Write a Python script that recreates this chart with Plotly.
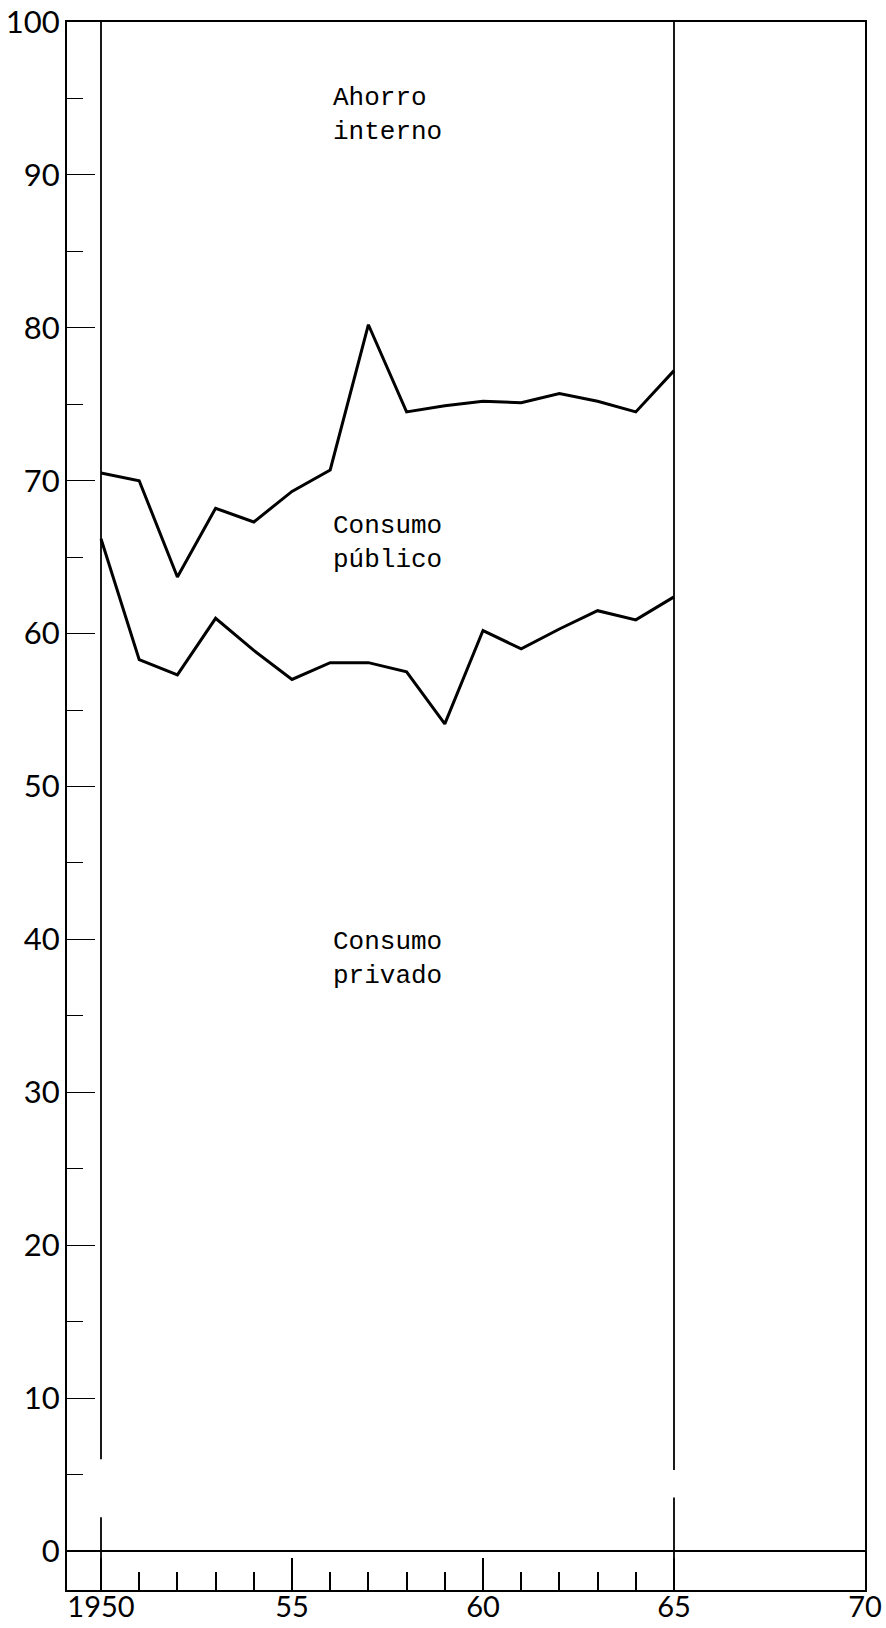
import plotly.graph_objects as go

# Data
years = list(range(1950, 1966))
# Upper boundary: consumo privado + consumo público (per cent of total)
upper_line = [70.5, 70.0, 63.7, 68.2, 67.3, 69.3, 70.7, 80.2, 74.5, 74.9, 75.2, 75.1, 75.7, 75.2, 74.5, 77.2]
# Lower boundary: consumo privado (per cent of total)
lower_line = [66.2, 58.3, 57.3, 61.0, 58.9, 57.0, 58.1, 58.1, 57.5, 54.1, 60.2, 59.0, 60.3, 61.5, 60.9, 62.4]

y_ticks = [0, 10, 20, 30, 40, 50, 60, 70, 80, 90, 100]
y_ticktext = ["0", "10", "20", "30", "40", "50", "60", "70", "80", "90", "100"]
x_ticks = [1950, 1955, 1960, 1965, 1970]
x_ticktext = ["1950", "55", "60", "65", "70"]
x_minor = [1951, 1952, 1953, 1954, 1956, 1957, 1958, 1959, 1961, 1962, 1963, 1964]

labels = ["Ahorro<br>interno", "Consumo<br>público", "Consumo<br>privado"]
label_y = [93.9, 65.9, 38.7]
label_x = [1956.03, 1956.03, 1956.03]

fig = go.Figure()
fig.add_trace(go.Scatter(x=years, y=upper_line, mode="lines",
                         line=dict(color="black", width=3), showlegend=False, hoverinfo="skip"))
fig.add_trace(go.Scatter(x=years, y=lower_line, mode="lines",
                         line=dict(color="black", width=3), showlegend=False, hoverinfo="skip"))

# Vertical reference lines at 1950 and 1965 (with small gaps near the bottom)
for x0, segs in [(1950, [(100, 6.0), (2.2, -2.55)]), (1965, [(100, 5.3), (3.5, -2.55)])]:
    for a, b in segs:
        fig.add_shape(type="line", xref="x", yref="y", x0=x0, x1=x0, y0=a, y1=b,
                      line=dict(color="black", width=1.8))

for t, xx, yy in zip(labels, label_x, label_y):
    fig.add_annotation(x=xx, y=yy, text=t, showarrow=False, xanchor="left", yanchor="middle",
                       align="left",
                       font=dict(family="Liberation Mono, DejaVu Sans Mono, monospace", size=26, color="black"))

tickfont_y = dict(family="Lato, Open Sans, DejaVu Sans, sans-serif", size=31, color="black")
tickfont_x = dict(family="Lato, Open Sans, DejaVu Sans, sans-serif", size=29, color="black")

fig.update_layout(
    width=886, height=1628,
    margin=dict(l=67, r=21, t=22, b=38),
    paper_bgcolor="white", plot_bgcolor="white",
    showlegend=False,
    xaxis=dict(range=[1949.11, 1970.0], showgrid=False, zeroline=False, automargin=False,
               showline=True, linecolor="black", linewidth=2, mirror=True,
               tickmode="array", tickvals=x_ticks, ticktext=x_ticktext,
               ticks="inside", ticklen=32, tickwidth=1.6, tickcolor="black",
               minor=dict(tickmode="array", tickvals=x_minor, ticks="inside",
                          ticklen=18, tickwidth=1.6, tickcolor="black", showgrid=False),
               tickfont=tickfont_x, ticklabelstandoff=-10, ticklabeloverflow="allow"),
    yaxis=dict(range=[-2.55, 100], showgrid=False, automargin=False,
               zeroline=True, zerolinecolor="black", zerolinewidth=2,
               showline=True, linecolor="black", linewidth=2, mirror=True,
               tickmode="array", tickvals=y_ticks, ticktext=y_ticktext,
               ticks="inside", ticklen=28, tickwidth=1.4, tickcolor="black",
               minor=dict(dtick=5, tick0=0, ticks="inside", ticklen=16,
                          tickwidth=1.4, tickcolor="black", showgrid=False),
               tickfont=tickfont_y, ticklabelstandoff=-1, ticklabeloverflow="allow"),
)

fig.write_html(
    "out.html",
    config={"displayModeBar": False},
    post_script="document.body.style.margin='0';document.documentElement.style.overflow='hidden';",
)
